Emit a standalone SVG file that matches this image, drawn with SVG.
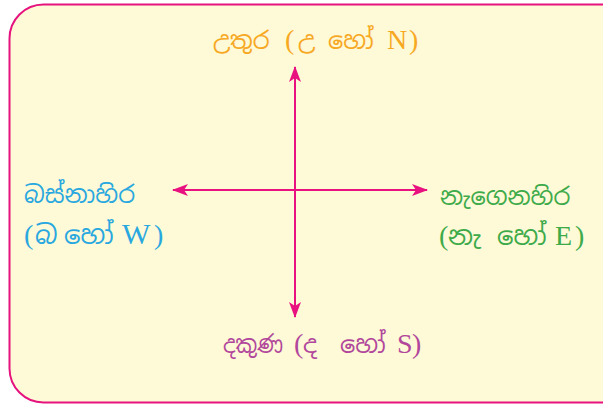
<svg xmlns="http://www.w3.org/2000/svg" width="603" height="405" viewBox="0 0 603 405">
  <style>
    .lbl { font-family: "Liberation Serif", "Noto Sans Sinhala", "Noto Serif Sinhala", serif; font-size: 24px; }
    .lat { font-size: 28px; }
    .big { font-size: 26px; }
    .ln { stroke: #e8117f; stroke-width: 2; fill: none; }
  </style>
  <defs>
    <marker id="ah" viewBox="0 0 16 12" refX="15" refY="6" markerWidth="16" markerHeight="12" markerUnits="userSpaceOnUse" orient="auto">
      <path d="M0,0 L16,6 L0,12 L4,6 Z" fill="#e8117f"/>
    </marker>
  </defs>
  <rect x="0" y="0" width="603" height="405" fill="#ffffff"/>
  <g id="frame">
    <rect x="9.5" y="4.5" width="630" height="398" rx="34" ry="34" fill="#fef9d6" stroke="#e6137f" stroke-width="2"/>
  </g>
  <g id="connectors">
    <line class="ln" x1="295" y1="190" x2="295" y2="67" marker-end="url(#ah)"/>
    <line class="ln" x1="295" y1="190" x2="295" y2="317" marker-end="url(#ah)"/>
    <line class="ln" x1="342" y1="190" x2="173" y2="190" marker-end="url(#ah)" stroke="#ec4a95" stroke-width="1.6"/>
    <line class="ln" x1="342" y1="190" x2="427" y2="190" marker-end="url(#ah)"/>
  </g>
  <g id="north">
    <text class="lbl" y="49" fill="#f7a823"><tspan x="213">උතුර</tspan><tspan class="lat" x="285">(</tspan><tspan x="298">උ</tspan><tspan x="328">හෝ</tspan><tspan class="lat" x="387">N</tspan><tspan class="lat" x="409">)</tspan></text>
  </g>
  <g id="west">
    <text class="lbl" x="24" y="203" fill="#29a8e0">බස්නාහිර</text>
    <text class="lbl" y="244" fill="#29a8e0"><tspan class="lat" x="24">(</tspan><tspan class="big" x="35">බ</tspan><tspan class="big" x="64">හෝ</tspan><tspan class="lat" x="122" style="font-size:30px">W</tspan><tspan class="lat" x="154">)</tspan></text>
  </g>
  <g id="east">
    <text class="lbl" x="440" y="205" fill="#3eab4b">නැගෙනහිර</text>
    <text class="lbl" y="245" fill="#3eab4b"><tspan class="lat" x="439">(</tspan><tspan class="big" x="448">නැ</tspan><tspan class="big" x="497">හෝ</tspan><tspan class="lat" x="555">E</tspan><tspan class="lat" x="575">)</tspan></text>
  </g>
  <g id="south">
    <text class="lbl" y="353" fill="#b1479c"><tspan x="223" textLength="60" lengthAdjust="spacingAndGlyphs">දකුණ</tspan><tspan class="lat" x="294">(</tspan><tspan x="303">ද</tspan><tspan x="340">හෝ</tspan><tspan class="lat" x="397">S</tspan><tspan class="lat" x="412">)</tspan></text>
  </g>
</svg>
